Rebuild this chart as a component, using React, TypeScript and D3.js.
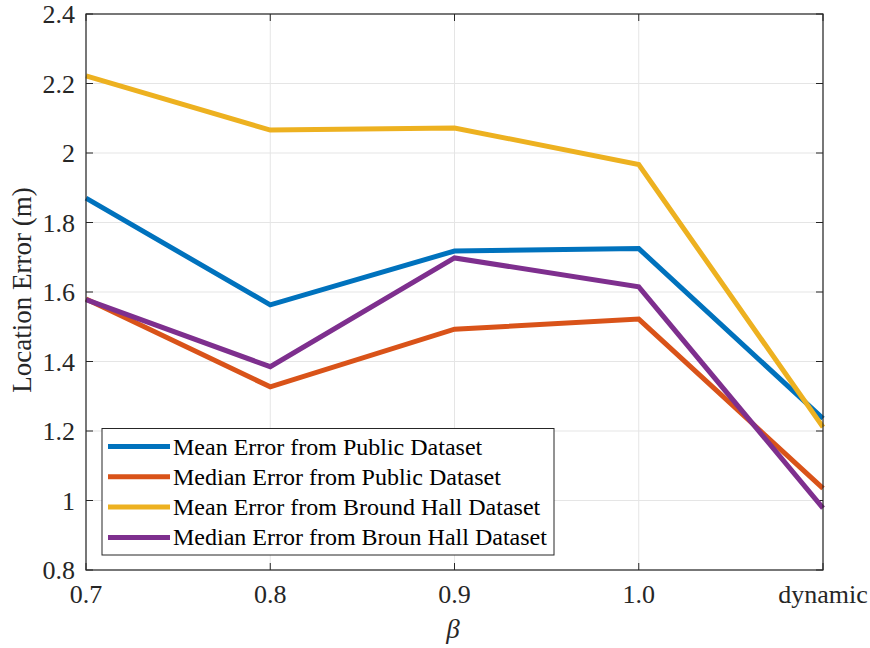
import React from "react";
import * as d3 from "d3";

const categories = ["0.7", "0.8", "0.9", "1.0", "dynamic"];
const meanPublic = [1.870, 1.563, 1.718, 1.725, 1.236];
const medianPublic = [1.580, 1.327, 1.493, 1.522, 1.035];
const meanBroun = [2.222, 2.066, 2.072, 1.967, 1.211];
const medianBroun = [1.578, 1.385, 1.698, 1.615, 0.978];
const seriesNames = [
  "Mean Error from Public Dataset",
  "Median Error from Public Dataset",
  "Mean Error from Bround Hall Dataset",
  "Median Error from Broun Hall Dataset",
];
const seriesColors = ["#0072BD", "#D95319", "#EDB120", "#7E2F8E"];
const yTicks = [0.8, 1, 1.2, 1.4, 1.6, 1.8, 2, 2.2, 2.4];

export default function App() {
  const W = 870, H = 648;
  const left = 86, right = 823, top = 14, bottom = 570;
  const x = d3.scalePoint<string>().domain(categories).range([left, right]);
  const y = d3.scaleLinear().domain([0.8, 2.4]).range([bottom, top]);
  const series = [meanPublic, medianPublic, meanBroun, medianBroun];
  const line = d3.line<number>().x((_, i) => x(categories[i])!).y((d) => y(d));
  const fam = "Liberation Serif";
  const axisColor = "#262626";
  const tl = 7;
  const legX = 102, legY = 428.5, legW = 452, legH = 126.5;
  return (
    <svg width={W} height={H} style={{ position: "absolute", left: 0, top: 0, background: "#fff" }}>
      {categories.map((c) => (
        <line key={"gx" + c} x1={x(c)} x2={x(c)} y1={top} y2={bottom} stroke="#e5e5e5" strokeWidth={1} />
      ))}
      {yTicks.map((t) => (
        <line key={"gy" + t} x1={left} x2={right} y1={y(t)} y2={y(t)} stroke="#e5e5e5" strokeWidth={1} />
      ))}
      {categories.map((c) => (
        <g key={"tx" + c}>
          <line x1={x(c)} x2={x(c)} y1={bottom} y2={bottom - tl} stroke={axisColor} />
          <line x1={x(c)} x2={x(c)} y1={top} y2={top + tl} stroke={axisColor} />
          <text x={x(c)} y={603} textAnchor="middle" fontSize={26} fill={axisColor} fontFamily={fam}>{c}</text>
        </g>
      ))}
      {yTicks.map((t) => (
        <g key={"ty" + t}>
          <line x1={left} x2={left + tl} y1={y(t)} y2={y(t)} stroke={axisColor} />
          <line x1={right} x2={right - tl} y1={y(t)} y2={y(t)} stroke={axisColor} />
          <text x={75} y={y(t) + 9} textAnchor="end" fontSize={26} fill={axisColor} fontFamily={fam}>{d3.format("~g")(t)}</text>
        </g>
      ))}
      {series.map((s, i) => (
        <path key={"s" + i} d={line(s)!} fill="none" stroke={seriesColors[i]} strokeWidth={5} strokeLinejoin="miter" />
      ))}
      <rect x={left} y={top} width={right - left} height={bottom - top} fill="none" stroke={axisColor} strokeWidth={1.2} />
      <rect x={legX} y={legY} width={legW} height={legH} fill="#fff" stroke={axisColor} strokeWidth={1} />
      {seriesNames.map((n, i) => {
        const cy = 446.5 + i * 30.3;
        return (
          <g key={"l" + i}>
            <line x1={108} x2={170} y1={cy} y2={cy} stroke={seriesColors[i]} strokeWidth={5} />
            <text x={173} y={cy + 8} fontSize={24} fill="#000" fontFamily={fam}>{n}</text>
          </g>
        );
      })}
      <text transform={`translate(31, 290) rotate(-90)`} textAnchor="middle" fontSize={27} fill={axisColor} fontFamily={fam}>
        Location Error (m)
      </text>
      <text x={453} y={638} textAnchor="middle" fontSize={27} fontStyle="italic" fill={axisColor} fontFamily={fam}>β</text>
    </svg>
  );
}
